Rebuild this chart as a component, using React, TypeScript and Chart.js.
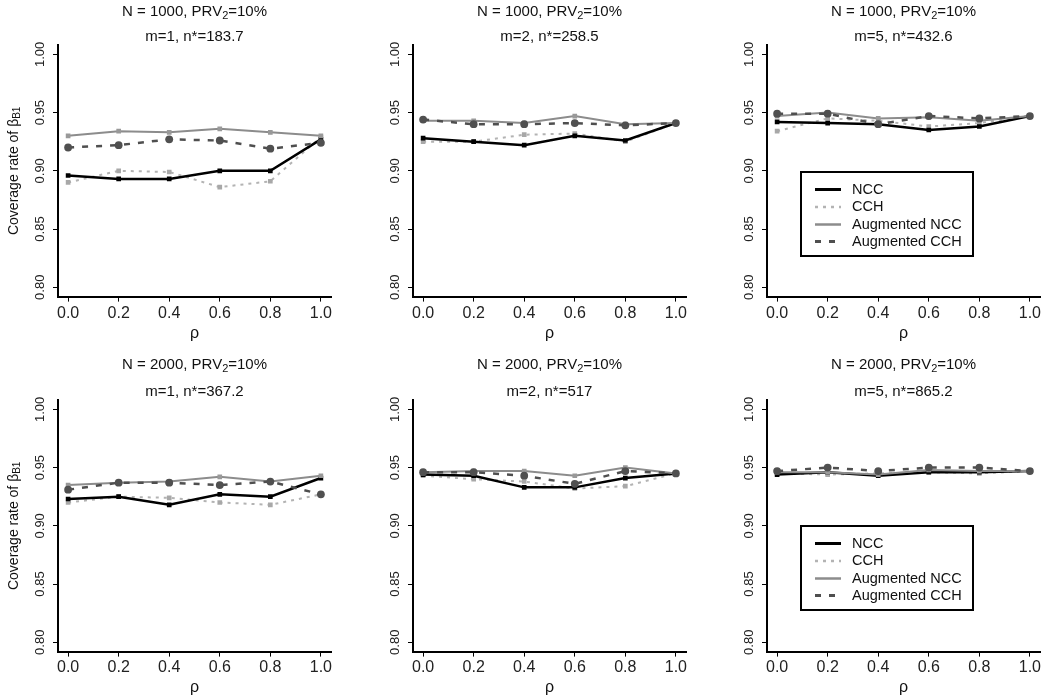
import React, { useEffect, useRef } from 'react';
import { Chart, registerables } from 'chart.js';

Chart.register(...registerables);

// ---------- DATA ----------
const rho = [0.0, 0.2, 0.4, 0.6, 0.8, 1.0];
const xTickValues = [0.0, 0.2, 0.4, 0.6, 0.8, 1.0];
const yTickValues = [0.8, 0.85, 0.9, 0.95, 1.0];
const seriesNames = ['NCC', 'CCH', 'Augmented NCC', 'Augmented CCH'];

const cohortSizes = [1000, 1000, 1000, 2000, 2000, 2000];
const mValues = [1, 2, 5, 1, 2, 5];
const nStarValues = ['183.7', '258.5', '432.6', '367.2', '517', '865.2'];
const prvPercent = 10;
const yAxisTitle = 'Coverage rate of β';
const yAxisTitleSub = 'B1';
const xAxisTitle = 'ρ';

// N = 1000, m = 1
const ncc_N1000_m1 = [0.896, 0.893, 0.893, 0.9, 0.9, 0.927];
const cch_N1000_m1 = [0.89, 0.9, 0.899, 0.886, 0.891, 0.929];
const augNcc_N1000_m1 = [0.93, 0.934, 0.933, 0.936, 0.933, 0.93];
const augCch_N1000_m1 = [0.92, 0.922, 0.927, 0.926, 0.919, 0.924];

// N = 1000, m = 2
const ncc_N1000_m2 = [0.928, 0.925, 0.922, 0.93, 0.926, 0.941];
const cch_N1000_m2 = [0.925, 0.925, 0.931, 0.932, 0.925, 0.941];
const augNcc_N1000_m2 = [0.943, 0.943, 0.941, 0.947, 0.94, 0.941];
const augCch_N1000_m2 = [0.944, 0.94, 0.94, 0.941, 0.939, 0.941];

// N = 1000, m = 5
const ncc_N1000_m5 = [0.942, 0.941, 0.94, 0.935, 0.938, 0.947];
const cch_N1000_m5 = [0.934, 0.945, 0.943, 0.938, 0.941, 0.947];
const augNcc_N1000_m5 = [0.947, 0.95, 0.945, 0.946, 0.943, 0.947];
const augCch_N1000_m5 = [0.949, 0.949, 0.94, 0.947, 0.945, 0.947];

// N = 2000, m = 1
const ncc_N2000_m1 = [0.923, 0.925, 0.918, 0.927, 0.925, 0.941];
const cch_N2000_m1 = [0.92, 0.925, 0.924, 0.92, 0.918, 0.927];
const augNcc_N2000_m1 = [0.935, 0.937, 0.938, 0.942, 0.938, 0.943];
const augCch_N2000_m1 = [0.931, 0.937, 0.937, 0.935, 0.938, 0.927];

// N = 2000, m = 2
const ncc_N2000_m2 = [0.944, 0.943, 0.933, 0.933, 0.941, 0.945];
const cch_N2000_m2 = [0.943, 0.94, 0.938, 0.932, 0.934, 0.945];
const augNcc_N2000_m2 = [0.946, 0.947, 0.947, 0.943, 0.95, 0.945];
const augCch_N2000_m2 = [0.946, 0.946, 0.943, 0.936, 0.947, 0.945];

// N = 2000, m = 5
const ncc_N2000_m5 = [0.944, 0.946, 0.943, 0.946, 0.946, 0.947];
const cch_N2000_m5 = [0.945, 0.944, 0.945, 0.946, 0.945, 0.947];
const augNcc_N2000_m5 = [0.946, 0.946, 0.944, 0.948, 0.947, 0.947];
const augCch_N2000_m5 = [0.947, 0.95, 0.947, 0.95, 0.95, 0.947];

const panelSeries = [
  [ncc_N1000_m1, cch_N1000_m1, augNcc_N1000_m1, augCch_N1000_m1],
  [ncc_N1000_m2, cch_N1000_m2, augNcc_N1000_m2, augCch_N1000_m2],
  [ncc_N1000_m5, cch_N1000_m5, augNcc_N1000_m5, augCch_N1000_m5],
  [ncc_N2000_m1, cch_N2000_m1, augNcc_N2000_m1, augCch_N2000_m1],
  [ncc_N2000_m2, cch_N2000_m2, augNcc_N2000_m2, augCch_N2000_m2],
  [ncc_N2000_m5, cch_N2000_m5, augNcc_N2000_m5, augCch_N2000_m5],
];

// ---------- STYLES / LAYOUT ----------
const FONT = '"Liberation Sans", Arial, Helvetica, sans-serif';
const TEXT = '#111111';
const TICK_TEXT = '#222222';

const seriesStyles = [
  { color: '#000000', width: 2.5, dash: [] as number[], point: 'rect', radius: 3.3, pointColor: '#000000', order: 2, legendWidth: 3 },
  { color: '#b3b3b3', width: 2, dash: [3, 5], point: 'rect', radius: 3.3, pointColor: '#a8a8a8', order: 3, legendWidth: 2.5 },
  { color: '#8c8c8c', width: 2, dash: [] as number[], point: 'rect', radius: 3.3, pointColor: '#999999', order: 1, legendWidth: 2.5 },
  { color: '#4f4f4f', width: 2.5, dash: [6, 8], point: 'circle', radius: 3.9, pointColor: '#505050', order: 0, legendWidth: 3 },
];

const CELL = 350;
const colLeft = [58, 63, 67];
const colRightPad = [19, 14, 10];
const rowTop = [45, 50];
const rowXScaleH = [53.4, 48.4];
const rowTitleY = [
  [11.7, 37.3],
  [15, 41.7],
];
const rowTickPad = [2, 1];
const rowXTitlePad = [7, 2.5];
const rowLegendTop = [172, 176];

function drawTitle(ctx: CanvasRenderingContext2D, cx: number, y1: number, y2: number, idx: number) {
  const main = `N = ${cohortSizes[idx]}, PRV`;
  const sub = '2';
  const rest = `=${prvPercent}%`;
  ctx.save();
  ctx.fillStyle = TEXT;
  ctx.textBaseline = 'middle';
  ctx.textAlign = 'left';
  ctx.font = `15px ${FONT}`;
  const w1 = ctx.measureText(main).width;
  const w3 = ctx.measureText(rest).width;
  ctx.font = `11px ${FONT}`;
  const w2 = ctx.measureText(sub).width;
  let x = cx - (w1 + w2 + w3) / 2;
  ctx.font = `15px ${FONT}`;
  ctx.fillText(main, x, y1);
  x += w1;
  ctx.font = `11px ${FONT}`;
  ctx.fillText(sub, x, y1 + 4);
  x += w2;
  ctx.font = `15px ${FONT}`;
  ctx.fillText(rest, x, y1);
  ctx.textAlign = 'center';
  ctx.fillText(`m=${mValues[idx]}, n*=${nStarValues[idx]}`, cx, y2);
  ctx.restore();
}

function drawYTitle(ctx: CanvasRenderingContext2D, x: number, cy: number) {
  ctx.save();
  ctx.fillStyle = TEXT;
  ctx.textBaseline = 'middle';
  ctx.textAlign = 'left';
  ctx.font = `14px ${FONT}`;
  const w1 = ctx.measureText(yAxisTitle).width;
  ctx.font = `10px ${FONT}`;
  const w2 = ctx.measureText(yAxisTitleSub).width;
  ctx.translate(x, cy);
  ctx.rotate(-Math.PI / 2);
  const start = -(w1 + w2) / 2;
  ctx.font = `14px ${FONT}`;
  ctx.fillText(yAxisTitle, start, 0);
  ctx.font = `10px ${FONT}`;
  ctx.fillText(yAxisTitleSub, start + w1, 3);
  ctx.restore();
}

function drawLegend(ctx: CanvasRenderingContext2D, left: number, top: number) {
  const w = 172;
  const h = 84;
  const rowOffsets = [17.5, 35, 52.5, 69.5];
  ctx.save();
  ctx.fillStyle = '#ffffff';
  ctx.fillRect(left, top, w, h);
  ctx.strokeStyle = '#000000';
  ctx.lineWidth = 2;
  ctx.strokeRect(left, top, w, h);
  seriesNames.forEach((name, i) => {
    const s = seriesStyles[i];
    const y = top + rowOffsets[i];
    ctx.beginPath();
    ctx.strokeStyle = s.color;
    ctx.lineWidth = s.legendWidth;
    ctx.setLineDash(s.dash);
    ctx.moveTo(left + 14, y);
    ctx.lineTo(left + 40, y);
    ctx.stroke();
    ctx.setLineDash([]);
    ctx.fillStyle = TEXT;
    ctx.font = `14.5px ${FONT}`;
    ctx.textBaseline = 'middle';
    ctx.textAlign = 'left';
    ctx.fillText(name, left + 51, y);
  });
  ctx.restore();
}

function Panel({ idx }: { idx: number }) {
  const ref = useRef<HTMLCanvasElement | null>(null);
  const col = idx % 3;
  const row = Math.floor(idx / 3);

  useEffect(() => {
    if (!ref.current) return;
    const series = panelSeries[idx];
    const datasets = series.map((vals, si) => {
      const s = seriesStyles[si];
      return {
        label: seriesNames[si],
        data: rho.map((x, i) => ({ x, y: vals[i] })),
        borderColor: s.color,
        borderWidth: s.width,
        borderDash: s.dash,
        pointStyle: s.point,
        pointRadius: s.radius,
        pointBackgroundColor: s.pointColor,
        pointBorderColor: s.pointColor,
        pointBorderWidth: 0,
        tension: 0,
        fill: false,
        order: s.order,
      };
    });

    const decor = {
      id: 'decor',
      afterDraw(chart: any) {
        const { ctx, chartArea } = chart;
        const cx = (chartArea.left + chartArea.right) / 2;
        drawTitle(ctx, cx, rowTitleY[row][0], rowTitleY[row][1], idx);
        if (col === 0) drawYTitle(ctx, 14, (chartArea.top + chartArea.bottom) / 2);
        if (col === 2) drawLegend(ctx, 101, rowLegendTop[row]);
      },
    };

    const chart = new Chart(ref.current, {
      type: 'line',
      data: { datasets: datasets as any },
      options: {
        animation: false,
        responsive: false,
        devicePixelRatio: 1,
        layout: { padding: { top: rowTop[row], right: colRightPad[col], bottom: 0, left: 0 } },
        plugins: {
          legend: { display: false },
          tooltip: { enabled: false },
          title: { display: false },
        },
        scales: {
          x: {
            type: 'linear',
            min: -0.04,
            max: 1.04,
            afterBuildTicks: (s: any) => {
              s.ticks = xTickValues.map((v) => ({ value: v }));
            },
            afterFit: (s: any) => {
              s.height = rowXScaleH[row];
            },
            border: { display: true, color: '#000000', width: 2 },
            grid: { display: true, drawOnChartArea: false, drawTicks: true, tickLength: 5, color: '#000000', lineWidth: 1 },
            ticks: {
              autoSkip: false,
              maxRotation: 0,
              minRotation: 0,
              padding: rowTickPad[row],
              color: TICK_TEXT,
              font: { family: FONT, size: 16 },
              callback: (v: any) => Number(v).toFixed(1),
            },
            title: {
              display: true,
              text: xAxisTitle,
              color: TEXT,
              font: { family: FONT, size: 16 },
              padding: { top: 0, bottom: rowXTitlePad[row] },
            },
          },
          y: {
            type: 'linear',
            min: 0.792,
            max: 1.008,
            afterBuildTicks: (s: any) => {
              s.ticks = yTickValues.map((v) => ({ value: v }));
            },
            afterFit: (s: any) => {
              s.width = colLeft[col];
            },
            border: { display: true, color: '#000000', width: 2 },
            grid: { display: true, drawOnChartArea: false, drawTicks: true, tickLength: 5, color: '#000000', lineWidth: 1 },
            ticks: {
              autoSkip: false,
              minRotation: 90,
              maxRotation: 90,
              crossAlign: 'center',
              padding: 0,
              color: TICK_TEXT,
              font: { family: FONT, size: 13 },
              callback: (v: any) => Number(v).toFixed(2),
            },
          },
        },
      },
      plugins: [decor],
    } as any);

    return () => chart.destroy();
  }, [idx]);

  return (
    <canvas
      ref={ref}
      width={CELL}
      height={CELL}
      style={{ position: 'absolute', left: col * CELL, top: row * CELL, width: CELL, height: CELL }}
    />
  );
}

export default function App() {
  return (
    <div style={{ position: 'absolute', left: 0, top: 0, width: 1050, height: 700, background: '#ffffff', overflow: 'hidden' }}>
      {[0, 1, 2, 3, 4, 5].map((i) => (
        <Panel key={i} idx={i} />
      ))}
    </div>
  );
}
